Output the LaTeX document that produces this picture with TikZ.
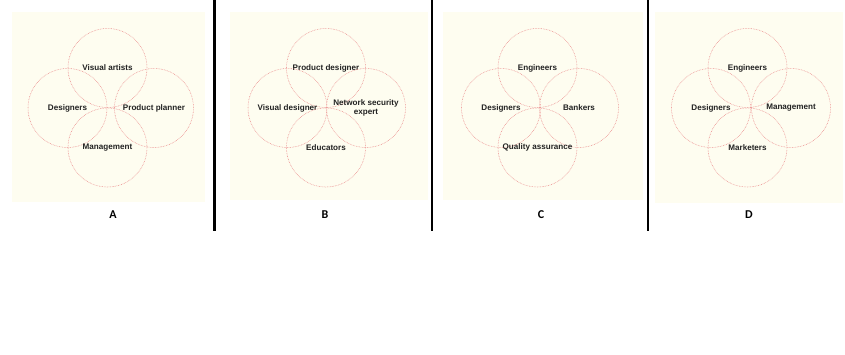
\documentclass[tikz,border=0pt]{standalone}
\usepackage{fontspec}
\setsansfont{Liberation Sans}
\newfontfamily\labelfont{Carlito}
\definecolor{panelbg}{HTML}{FEFDF0}
\definecolor{ringred}{HTML}{EC9090}
\definecolor{textgray}{HTML}{222222}
\tikzset{
  ring/.style={circle, draw=ringred, line width=0.55pt, dash pattern=on 0.7pt off 0.9pt,
    minimum size=79pt, inner sep=0pt, align=center,
    font=\sffamily\bfseries\fontsize{8.1}{8.8}\selectfont, text=textgray},
  panel/.style={fill=panelbg},
  panelname/.style={font=\labelfont\bfseries\fontsize{12}{13}\selectfont, text=black},
  divider/.style={line width=2.8pt, black}
}
\begin{document}
\begin{tikzpicture}[x=1pt,y=-1pt]
\useasboundingbox (0,0) rectangle (845,354);

% Panel backgrounds
\fill[panel] (12,12) rectangle (205,202);
\fill[panel] (230,12) rectangle (428,200);
\fill[panel] (443,12) rectangle (643,200);
\fill[panel] (655,12) rectangle (843,203);

% Dividers
\coordinate (d1top) at (214.5,0);
\coordinate (d1bot) at (214.5,231);
\coordinate (d2top) at (432,0);
\coordinate (d2bot) at (432,231);
\coordinate (d3top) at (648,0);
\coordinate (d3bot) at (648,231);
\draw[divider] (d1top) -- (d1bot);
\draw[divider] (d2top) -- (d2bot);
\draw[divider] (d3top) -- (d3bot);

% Panel A
\node[ring] (aTop) at (107.5,68) {Visual artists};
\node[ring] (aLeft) at (67.5,108) {Designers};
\node[ring] (aRight) at (154,108) {Product planner};
\node[ring] (aBottom) at (107.5,147.5) {Management};
\node[panelname] (aName) at (113,215) {A};

% Panel B
\node[ring] (bTop) at (326,68) {Product designer};
\node[ring] (bLeft) at (287.5,108) {Visual designer};
\node[ring] (bRight) at (366,108) {Network security\\expert};
\node[ring] (bBottom) at (326,147.5) {Educators};
\node[panelname] (bName) at (325,215) {B};

% Panel C
\node[ring] (cTop) at (537.5,68) {Engineers};
\node[ring] (cLeft) at (501,108) {Designers};
\node[ring] (cRight) at (579,108) {Bankers};
\node[ring] (cBottom) at (537.5,147.5) {Quality assurance};
\node[panelname] (cName) at (541,215) {C};

% Panel D
\node[ring] (dTop) at (747.5,68) {Engineers};
\node[ring] (dLeft) at (711,108) {Designers};
\node[ring] (dRight) at (791,108) {Management};
\node[ring] (dBottom) at (747.5,147.5) {Marketers};
\node[panelname] (dName) at (749,215) {D};

\end{tikzpicture}
\end{document}
